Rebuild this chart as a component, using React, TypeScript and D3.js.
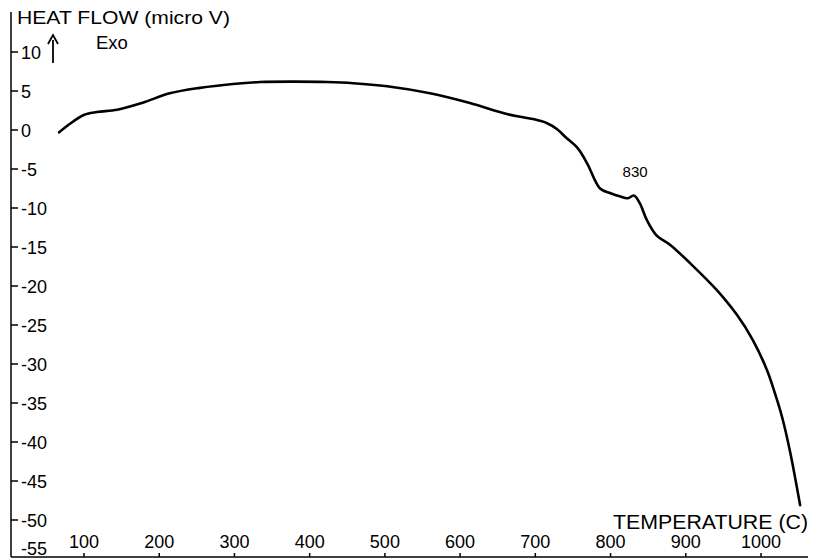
import React from "react";
import * as d3 from "d3";

const temps = [67, 80, 99, 117, 144, 178, 214, 254, 298, 334, 380, 423, 458, 503, 560, 613, 662, 697, 715, 729, 740, 756, 769, 786, 800, 812, 823, 831, 839, 848, 861, 879, 906, 941, 968, 989, 1008, 1019, 1028, 1039, 1052];
const heatFlow = [-0.3, 0.7, 1.9, 2.3, 2.6, 3.5, 4.7, 5.4, 5.9, 6.15, 6.2, 6.15, 6.0, 5.6, 4.7, 3.45, 2.05, 1.4, 0.9, 0.1, -0.9, -2.3, -4.3, -7.5, -8.1, -8.5, -8.75, -8.4, -9.4, -11.5, -13.5, -14.7, -17.1, -20.5, -23.7, -26.9, -30.8, -33.9, -36.8, -41.4, -48.1];
const xTicks = [100, 200, 300, 400, 500, 600, 700, 800, 900, 1000];
const yTicks = [10, 5, 0, -5, -10, -15, -20, -25, -30, -35, -40, -45, -50, -55];
const peakLabel = { t: 830, text: "830" };

const W = 814;
const H = 560;
const FONT = "'Liberation Sans', Arial, Helvetica, sans-serif";

export default function App() {
  const x = d3.scaleLinear().domain([100, 1000]).range([84, 761]);
  const y = d3.scaleLinear().domain([0, -50]).range([130, 520]);
  const axisX = 11;
  const axisY = 557;
  const pts = temps.map((t, i) => [t, heatFlow[i]] as [number, number]);
  const line = d3
    .line<[number, number]>()
    .x((d) => x(d[0]))
    .y((d) => y(d[1]))
    .curve(d3.curveCatmullRom.alpha(0.5));

  return (
    <svg
      width={W}
      height={H}
      style={{ position: "absolute", left: 0, top: 0, background: "#fff" }}
      fontFamily={FONT}
    >
      <rect x={0} y={0} width={W} height={H} fill="#fff" />
      {/* axes */}
      <line x1={axisX} y1={12} x2={axisX} y2={axisY} stroke="#000" strokeWidth={1.5} />
      <line x1={axisX} y1={axisY} x2={808} y2={axisY} stroke="#000" strokeWidth={1.5} />
      {/* y ticks */}
      {yTicks.map((v) => {
        const yy = Math.min(y(v), axisY);
        const ly = Math.min(y(v) + 6.5, 555);
        return (
          <g key={"y" + v}>
            {v !== -55 && (
              <line x1={axisX} y1={yy} x2={axisX + 7} y2={yy} stroke="#000" strokeWidth={1.5} />
            )}
            <text x={21} y={ly} fontSize={18} fill="#000">
              {v}
            </text>
          </g>
        );
      })}
      {/* x ticks */}
      {xTicks.map((t) => (
        <g key={"x" + t}>
          <line x1={x(t)} y1={axisY} x2={x(t)} y2={axisY - 4} stroke="#000" strokeWidth={1.5} />
          <text x={x(t)} y={548} fontSize={18} textAnchor="middle" fill="#000">
            {t}
          </text>
        </g>
      ))}
      {/* titles */}
      <text x={17} y={24} fontSize={19} textLength={213} lengthAdjust="spacingAndGlyphs" fill="#000">
        HEAT FLOW (micro V)
      </text>
      <text x={96} y={49} fontSize={18.5} fill="#000">
        Exo
      </text>
      <line x1={53} y1={63} x2={53} y2={40} stroke="#000" strokeWidth={1.8} />
      <path d="M48,44 L53,35 L58,44" fill="none" stroke="#000" strokeWidth={1.8} />
      <text x={613} y={529} fontSize={20} textLength={195} lengthAdjust="spacingAndGlyphs" fill="#000">
        TEMPERATURE (C)
      </text>
      <text x={x(peakLabel.t) + 2} y={177} fontSize={15} textAnchor="middle" fill="#000">
        {peakLabel.text}
      </text>
      {/* curve */}
      <path d={line(pts) || ""} fill="none" stroke="#000" strokeWidth={2.6} strokeLinejoin="round" strokeLinecap="round" />
    </svg>
  );
}
